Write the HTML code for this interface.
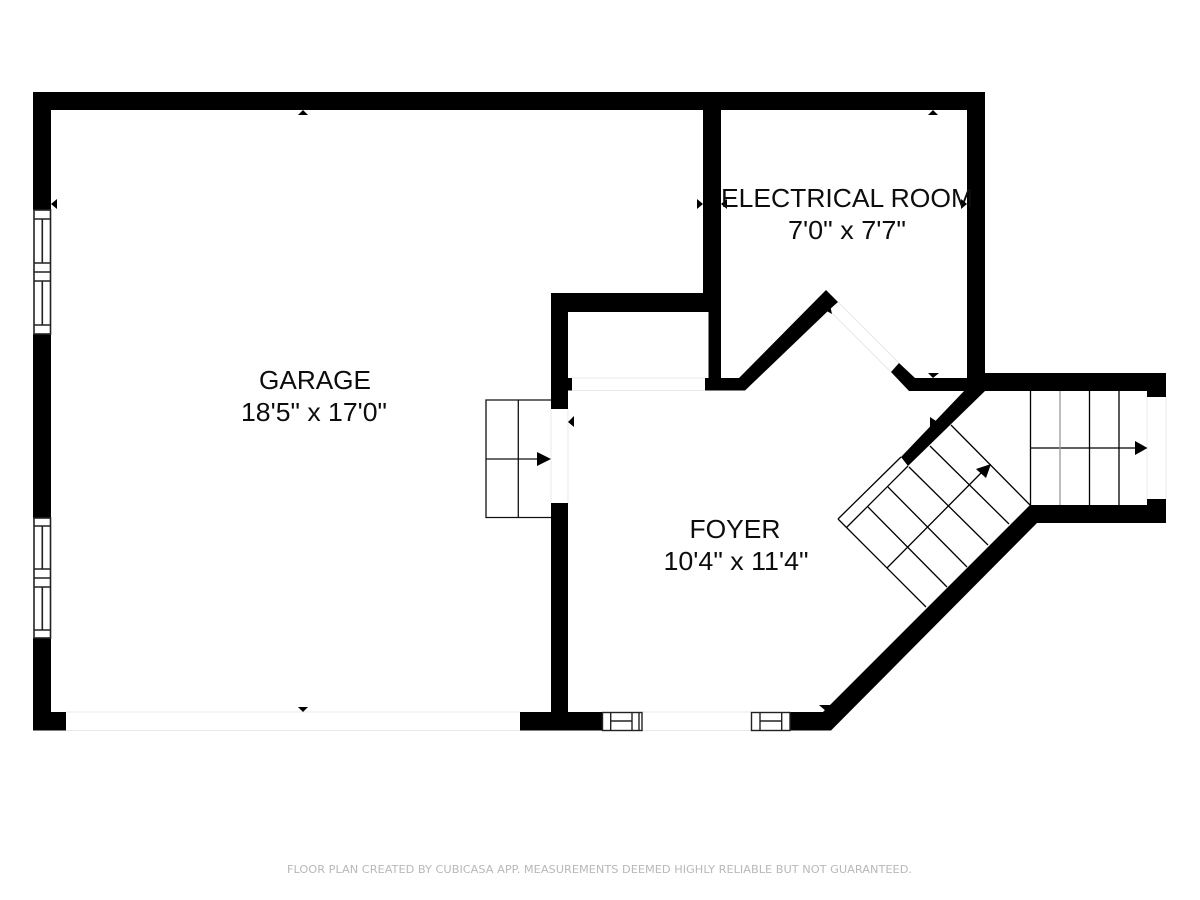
<!DOCTYPE html>
<html>
<head>
<meta charset="utf-8">
<style>
html,body{margin:0;padding:0;background:#fff;}
svg{display:block;}
text{font-family:"Liberation Sans",sans-serif;fill:#0d0d0d;}
</style>
</head>
<body>
<svg width="1200" height="900" viewBox="0 0 1200 900" xmlns="http://www.w3.org/2000/svg">
<rect width="1200" height="900" fill="#fff"/>

<!-- faint door lines -->
<g stroke="#e8e8e8" stroke-width="1" fill="none">
  <path d="M66 712H520M66 730.5H520"/>
  <path d="M572 378H705M572 390.5H705"/>
  <path d="M551 409V503M568 409V503"/>
  <path d="M838 302L899 363M829 310L891 372"/>
  <path d="M642 712H751M642 730.5H751"/>
  <path d="M1147 397V499M1166 397V499"/>
</g>

<!-- walls -->
<g fill="#000">
  <rect x="33" y="92" width="952" height="18"/>
  <rect x="33" y="92" width="18" height="118"/>
  <rect x="33" y="334" width="18" height="184"/>
  <rect x="33" y="638" width="18" height="92.5"/>
  <rect x="33" y="712" width="33" height="18.5"/>
  <rect x="703" y="92" width="18" height="220"/>
  <rect x="708.5" y="300" width="12.5" height="85"/>
  <rect x="967" y="92" width="18" height="299"/>
  <rect x="551" y="293" width="170" height="19"/>
  <rect x="551" y="293" width="17" height="116"/>
  <rect x="551" y="378" width="21" height="12.5"/>
  <rect x="551" y="503" width="17" height="227"/>
  <rect x="520" y="712" width="82" height="18.5"/>
  <polygon points="705,378 739,378 826,290 838,302 829,310 745,390.5 705,390.5"/>
  <polygon points="899,363 915,378 985,378 985,391 909,391 891,372"/>
  <polygon points="965,390 985,373 985,391 908,466 901,457"/>
  <rect x="985" y="373" width="181" height="18"/>
  <rect x="1147" y="373" width="19" height="24"/>
  <rect x="1030" y="505" width="136" height="18"/>
  <rect x="1147" y="499" width="19" height="24"/>
  <polygon points="790,712 823,712 1030,505 1037,523 831,730.5 790,730.5"/>
</g>

<!-- left windows -->
<g fill="#fff" stroke="#222" stroke-width="1.6">
  <rect x="34" y="210" width="16.5" height="124"/>
  <path d="M34 219H50.5M34 263H50.5M34 272H50.5M34 281H50.5M34 325H50.5M42.3 219V263M42.3 281V325" fill="none"/>
  <rect x="34" y="518" width="16.5" height="120"/>
  <path d="M34 526H50.5M34 569H50.5M34 578H50.5M34 587H50.5M34 630H50.5M42.3 526V569M42.3 587V630" fill="none"/>
</g>

<!-- bottom windows -->
<g fill="#fff" stroke="#222" stroke-width="1.4">
  <rect x="602.5" y="712.5" width="39.5" height="18"/>
  <path d="M610.7 712.5V730.5M632 712.5V730.5M639 712.5V730.5M610.7 721H632" fill="none"/>
  <rect x="751.5" y="712.5" width="38.5" height="18"/>
  <path d="M760 712.5V730.5M781.7 712.5V730.5M760 721H781.7" fill="none"/>
</g>

<!-- garage step -->
<g fill="none" stroke="#111" stroke-width="1.3">
  <path d="M551 400H486V517.5H551M518.3 400V517.5M486 459H538"/>
</g>
<polygon points="537,452 551,459 537,466" fill="#000"/>

<!-- right stairs -->
<g fill="none" stroke="#000" stroke-width="1.3">
  <path d="M1030.5 391V505M1089.5 391V505M1119 391V505M1030.5 448H1136"/>
  <path d="M1060 391V505" stroke="#999"/>
</g>
<polygon points="1135,441 1147.5,448 1135,455" fill="#000"/>

<!-- diagonal stairs -->
<g fill="none" stroke="#000" stroke-width="1.3">
  <path d="M838 519L901 457M847 527L908 466M838 519L926 607"/>
  <path d="M951 425L1030 505M930 446L1009 524M909 467L988 545M888 487L967 567M868 507L947 587"/>
  <path d="M887 568L982 472"/>
</g>
<polygon points="991,464 976,469 986,478" fill="#000"/>

<!-- small markers -->
<g fill="#000">
  <polygon points="303,110 298,115 308,115"/>
  <polygon points="303,712 298,707 308,707"/>
  <polygon points="51,204 57,199 57,209"/>
  <polygon points="703,204 697,199 697,209"/>
  <polygon points="933,110 928,115 938,115"/>
  <polygon points="967,204 961,199 961,209"/>
  <polygon points="721,204 727,199 727,209"/>
  <polygon points="933,378 928,373 939,373"/>
  <polygon points="568,422 574,416 574,427"/>
  <polygon points="830,305 823,309 832,314"/>
  <polygon points="930,417 930,428 936,421"/>
  <polygon points="819,705 830,705 827,712"/>
</g>

<!-- labels -->
<g font-size="26" text-anchor="middle">
  <text x="315" y="389" textLength="112" lengthAdjust="spacingAndGlyphs">GARAGE</text>
  <text x="314" y="421" textLength="146" lengthAdjust="spacingAndGlyphs">18'5" x 17'0"</text>
  <text x="735" y="538" textLength="91" lengthAdjust="spacingAndGlyphs">FOYER</text>
  <text x="736" y="570" textLength="145" lengthAdjust="spacingAndGlyphs">10'4" x 11'4"</text>
  <text x="847" y="207" textLength="252" lengthAdjust="spacingAndGlyphs">ELECTRICAL ROOM</text>
  <text x="847" y="239" textLength="118" lengthAdjust="spacingAndGlyphs">7'0" x 7'7"</text>
</g>
<text x="599.5" y="873" font-size="11" text-anchor="middle" textLength="625" lengthAdjust="spacingAndGlyphs" style="fill:#b8b8b8;font-family:'DejaVu Sans',sans-serif">FLOOR PLAN CREATED BY CUBICASA APP. MEASUREMENTS DEEMED HIGHLY RELIABLE BUT NOT GUARANTEED.</text>
</svg>
</body>
</html>
